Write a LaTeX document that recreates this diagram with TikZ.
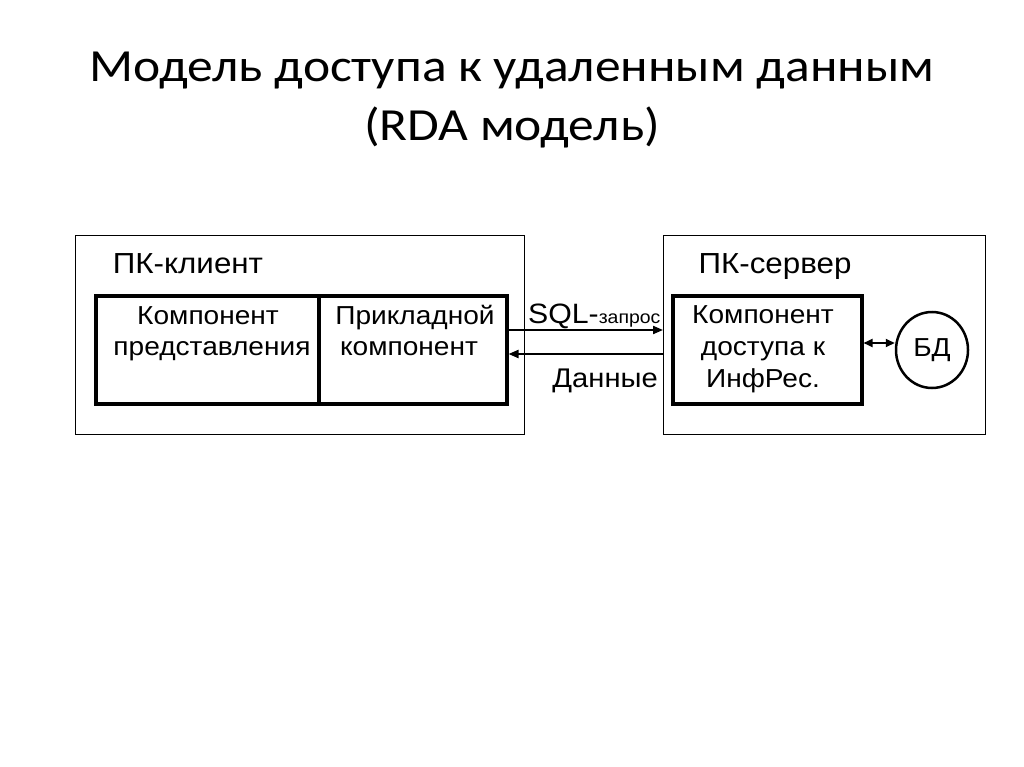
\documentclass[tikz,border=0pt]{standalone}
\usepackage{fontspec}
\setmainfont[FakeStretch=1.08]{Liberation Sans}
\newfontfamily\titlefont[FakeStretch=1.12]{Carlito}
\usetikzlibrary{arrows.meta,shapes.geometric}
\begin{document}
\begin{tikzpicture}[x=1pt,y=-1pt,
  outerbox/.style={draw,line width=1.2pt},
  innerbox/.style={draw,line width=3.5pt},
  txt/.style={anchor=base,inner sep=0pt,font=\fontsize{26}{32}\selectfont},
  lab/.style={anchor=base,inner sep=0pt,font=\fontsize{29}{32}\selectfont},
  conn/.style={line width=2pt,-{Triangle[length=10pt,width=8pt]}},
  dconn/.style={line width=2pt,{Triangle[length=9pt,width=8pt]}-{Triangle[length=9pt,width=8pt]}}]
\useasboundingbox (0,0) rectangle (1024,767);
\fill[white] (0,0) rectangle (1024,767);
% title
\node[anchor=base,inner sep=0pt,font=\titlefont\fontsize{46}{60}\selectfont] (t1) at (512,82) {Модель доступа к удаленным данным};
\node[anchor=base,inner sep=0pt,font=\titlefont\fontsize{46}{60}\selectfont] (t2) at (512,141) {(RDA модель)};
% client
\node[outerbox,minimum width=449pt,minimum height=199pt,anchor=north west,inner sep=0pt] (client) at (75,235) {};
\node[innerbox,minimum width=411pt,minimum height=108pt,anchor=north west,inner sep=0pt] (cin) at (94,294) {};
\coordinate (divtop) at (319,294);
\coordinate (divbot) at (319,402);
\draw[line width=3.5pt] (divtop) -- (divbot);
\node[lab] (clab) at (188,273) {ПК-клиент};
\node[txt] (p1) at (208,324) {Компонент};
\node[txt] (p2) at (212,355) {представления};
\node[txt] (a1) at (415,324) {Прикладной};
\node[txt] (a2) at (409,355) {компонент};
% server
\node[outerbox,minimum width=322pt,minimum height=199pt,anchor=north west,inner sep=0pt] (server) at (663,235) {};
\node[innerbox,minimum width=189pt,minimum height=108pt,anchor=north west,inner sep=0pt] (sin) at (671,294) {};
\node[lab] (slab) at (775,273) {ПК-сервер};
\node[txt] (s1) at (763,323) {Компонент};
\node[txt] (s2) at (763,355) {доступа к};
\node[txt] (s3) at (763,387) {ИнфРес.};
\node[draw,line width=2.5pt,ellipse,minimum width=72pt,minimum height=76pt,inner sep=0pt] (bd) at (932,350) {};
\node[txt,anchor=center] at (bd.center) {БД};
% arrows
\draw[conn] (cin.east |- 0,330) -- (server.west |- 0,330);
\draw[conn] (server.west |- 0,354) -- (cin.east |- 0,354);
\draw[dconn] (sin.east |- 0,343) -- (bd.west |- 0,343);
\node[anchor=base west,inner sep=0pt,font=\fontsize{28}{32}\selectfont] (sql) at (528,323) {SQL-{\fontsize{18}{20}\selectfont запрос}};
\node[anchor=base east,inner sep=0pt,font=\fontsize{27}{32}\selectfont] (dat) at (658,387) {Данные};
\end{tikzpicture}
\end{document}
